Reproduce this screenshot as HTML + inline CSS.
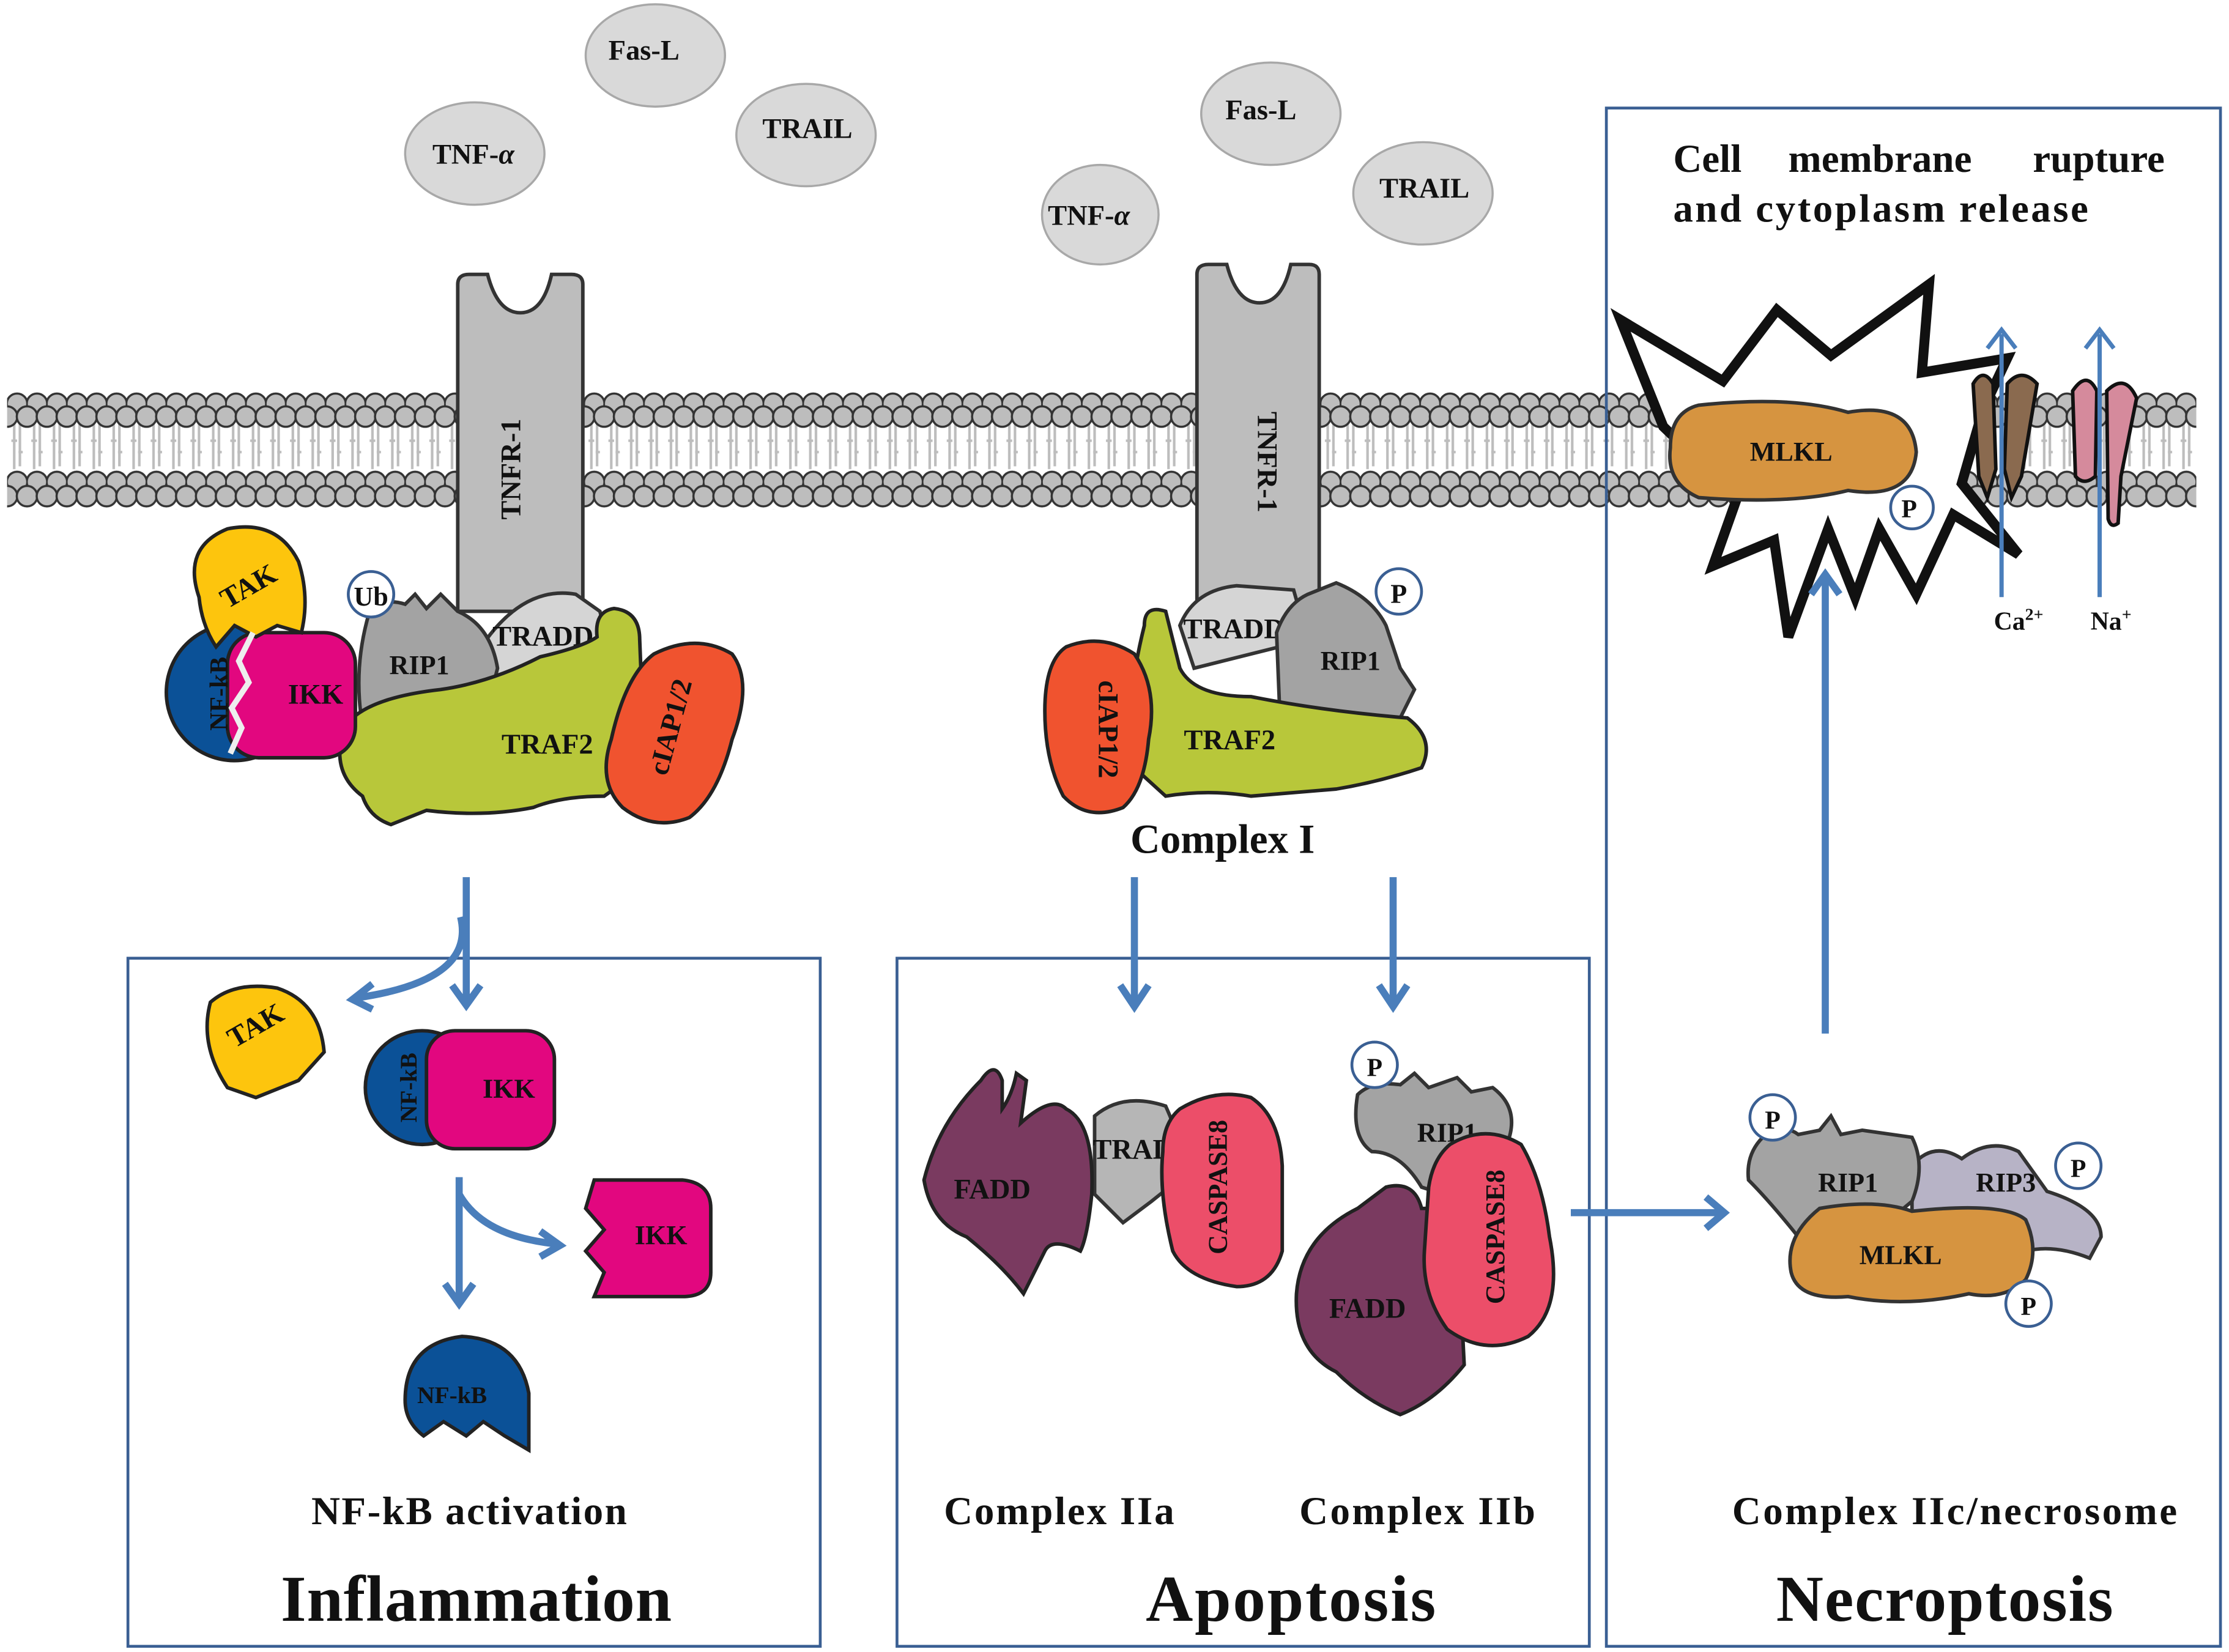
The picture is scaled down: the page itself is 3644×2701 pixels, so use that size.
<!DOCTYPE html>
<html><head><meta charset="utf-8"><style>
html,body{margin:0;padding:0;background:#fff}
svg{display:block}
text{font-family:"Liberation Serif",serif;font-weight:bold;fill:#111}
</style></head><body>
<svg width="3644" height="2701" viewBox="0 0 1568 1162" preserveAspectRatio="none" xmlns="http://www.w3.org/2000/svg">
<defs>
<pattern id="mem" x="5" y="276" width="14" height="82" patternUnits="userSpaceOnUse">
<g stroke="#bdbdbd" stroke-width="1.8" fill="none">
<path d="M5 22 V54 M9 22 V52 M3 34 h4 M8 42 h3"/>
</g>
<g fill="#bdbdbd" stroke="#333" stroke-width="1.5">
<circle cx="7" cy="8" r="7.2"/>
<circle cx="0" cy="17" r="7.2"/><circle cx="14" cy="17" r="7.2"/>
<circle cx="7" cy="63" r="7.2"/>
<circle cx="0" cy="73" r="7.2"/><circle cx="14" cy="73" r="7.2"/>
</g>
</pattern>
</defs>

<!-- ligands -->
<g fill="#d9d9d9" stroke="#a8a8a8" stroke-width="1.5">
<ellipse cx="461" cy="39" rx="49" ry="36"/>
<ellipse cx="567" cy="95" rx="49" ry="36"/>
<ellipse cx="334" cy="108" rx="49" ry="36"/>
<ellipse cx="894" cy="80" rx="49" ry="36"/>
<ellipse cx="1001" cy="136" rx="49" ry="36"/>
<ellipse cx="774" cy="151" rx="41" ry="35"/>
</g>
<g font-size="20" text-anchor="middle">
<text x="453" y="42">Fas-L</text>
<text x="568" y="97">TRAIL</text>
<text x="333" y="115">TNF-<tspan font-style="italic">α</tspan></text>
<text x="887" y="84">Fas-L</text>
<text x="1002" y="139">TRAIL</text>
<text x="766" y="158">TNF-<tspan font-style="italic">α</tspan></text>
</g>

<!-- membrane -->
<rect x="5" y="276" width="1540" height="82" fill="url(#mem)"/>

<!-- star rupture -->
<polygon points="1140,225 1212,268 1250,218 1288,250 1357,200 1352,262 1412,252 1395,288 1380,340 1420,390 1374,362 1348,418 1322,372 1305,420 1286,372 1258,448 1248,380 1205,398 1222,350 1170,300" fill="#fff" stroke="#111" stroke-width="7" stroke-linejoin="miter"/>

<!-- boxes -->
<g fill="none" stroke="#3a5f93" stroke-width="2">
<rect x="90" y="674" width="487" height="484"/>
<rect x="631" y="674" width="487" height="484"/>
<rect x="1130" y="76" width="432" height="1082"/>
</g>

<!-- receptors -->
<g fill="#bdbdbd" stroke="#333" stroke-width="2.5">
<path d="M322 200 Q322 193 330 193 L343 193 Q350 220 366 220 Q382 220 388 193 L402 193 Q410 193 410 200 L410 430 L322 430 Z"/>
<path d="M842 193 Q842 186 850 186 L863 186 Q870 213 886 213 Q902 213 908 186 L921 186 Q928 186 928 193 L928 430 L842 430 Z"/>
</g>
<text transform="translate(366 330) rotate(-90)" font-size="20" text-anchor="middle">TNFR-1</text>
<text transform="translate(885 325) rotate(90)" font-size="20" text-anchor="middle">TNFR-1</text>

<!-- Left complex -->
<path d="M342 450 Q370 412 405 418 L422 430 L430 460 L350 480 Z" fill="#d5d5d5" stroke="#333" stroke-width="2.5"/>
<text x="382" y="454" font-size="20" text-anchor="middle">TRADD</text>
<path d="M260 430 Q270 420 285 425 L292 418 L300 428 L310 418 L322 430 Q345 440 350 470 L345 490 L300 510 L255 510 Q248 470 260 430 Z" fill="#a3a3a3" stroke="#333" stroke-width="2.5"/>
<text x="295" y="474" font-size="19" text-anchor="middle">RIP1</text>
<circle cx="261" cy="418" r="16" fill="#fff" stroke="#3a5f93" stroke-width="2"/>
<text x="261" y="426" font-size="19" text-anchor="middle">Ub</text>
<path d="M248 505 Q265 490 310 485 Q345 480 380 462 Q410 455 420 448 Q418 430 432 428 Q450 430 450 450 L452 500 Q455 540 425 560 Q395 560 375 568 Q340 575 300 570 L275 580 Q260 575 255 560 Q235 545 240 520 Z" fill="#b8c73a" stroke="#222" stroke-width="2.5"/>
<text x="385" y="530" font-size="20" text-anchor="middle">TRAF2</text>
<path d="M460 460 Q490 445 515 460 Q530 480 515 520 Q505 560 485 575 Q460 585 438 568 Q420 550 430 520 Q440 475 460 460 Z" fill="#f0532f" stroke="#222" stroke-width="2.5"/>
<text transform="translate(478 513) rotate(-75)" font-size="20" text-anchor="middle">cIAP1/2</text>
<!-- NF-kB/IKK/TAK top -->
<circle cx="165" cy="487" r="48" fill="#0b5197" stroke="#222" stroke-width="2.5"/>
<rect x="160" y="445" width="90" height="88" rx="22" fill="#e2077f" stroke="#222" stroke-width="2.5"/>
<path d="M140 420 Q128 385 160 372 Q195 365 210 395 Q218 420 212 445 L195 440 L180 448 L165 440 L152 455 Q142 440 140 420 Z" fill="#fdc50d" stroke="#222" stroke-width="2.5"/>
<path d="M178 445 L168 465 L175 480 L163 498 L170 512 L162 530" fill="none" stroke="#eee" stroke-width="4"/>
<text transform="translate(178 418) rotate(-30)" font-size="20" text-anchor="middle">TAK</text>
<text x="222" y="495" font-size="20" text-anchor="middle">IKK</text>
<text transform="translate(160 488) rotate(-90)" font-size="18" text-anchor="middle">NF-kB</text>

<!-- Middle complex I -->
<path d="M830 440 Q840 415 870 412 L910 415 L920 450 L840 470 Z" fill="#d5d5d5" stroke="#333" stroke-width="2.5"/>
<text x="868" y="449" font-size="20" text-anchor="middle">TRADD</text>
<path d="M898 445 Q905 425 920 418 L940 410 Q965 420 975 440 L985 470 L995 485 L985 505 L930 510 L900 495 Z" fill="#a3a3a3" stroke="#333" stroke-width="2.5"/>
<text x="950" y="471" font-size="19" text-anchor="middle">RIP1</text>
<circle cx="984" cy="416" r="16" fill="#fff" stroke="#3a5f93" stroke-width="2"/>
<text x="984" y="424" font-size="19" text-anchor="middle">P</text>
<path d="M805 440 Q805 425 820 430 L830 470 Q840 490 880 490 Q930 500 990 505 Q1010 520 1000 540 Q970 550 940 555 L880 560 Q850 555 820 560 L798 540 Q790 500 805 440 Z" fill="#b8c73a" stroke="#222" stroke-width="2.5"/>
<text x="865" y="527" font-size="20" text-anchor="middle">TRAF2</text>
<path d="M750 455 Q775 445 798 460 Q815 485 808 520 Q805 555 790 568 Q765 578 748 560 Q735 535 735 500 Q735 465 750 455 Z" fill="#f0532f" stroke="#222" stroke-width="2.5"/>
<text transform="translate(773 513) rotate(90)" font-size="20" text-anchor="middle">cIAP1/2</text>
<text x="860" y="600" font-size="29" text-anchor="middle">Complex I</text>

<!-- MLKL in membrane -->
<path d="M1195 285 Q1260 278 1300 290 Q1345 282 1348 318 Q1345 352 1300 345 Q1260 355 1195 350 Q1172 340 1175 315 Q1175 290 1195 285 Z" fill="#d69440" stroke="#333" stroke-width="2.5"/>
<text x="1260" y="324" font-size="19" text-anchor="middle">MLKL</text>
<circle cx="1345" cy="357" r="15" fill="none" stroke="#3a5f93" stroke-width="2"/>
<text x="1343" y="364" font-size="18" text-anchor="middle">P</text>
<!-- channels -->
<path d="M1388 270 Q1395 258 1402 270 L1404 330 L1398 350 L1392 335 Z" fill="#8a6a4f" stroke="#111" stroke-width="2.5"/>
<path d="M1412 270 Q1422 258 1433 270 L1422 335 L1415 350 L1410 330 Z" fill="#8a6a4f" stroke="#111" stroke-width="2.5"/>
<path d="M1458 275 Q1468 260 1475 275 L1474 335 Q1466 342 1460 335 Z" fill="#d58a9c" stroke="#111" stroke-width="2.5"/>
<path d="M1482 275 Q1495 262 1503 280 L1492 335 L1490 368 Q1485 372 1483 365 Z" fill="#d58a9c" stroke="#111" stroke-width="2.5"/>
<g stroke="#4a7ebb" stroke-width="3" fill="none">
<path d="M1408 420 V235 M1398 245 L1408 232 L1418 245"/>
<path d="M1477 420 V235 M1467 245 L1477 232 L1487 245"/>
</g>
<text x="1420" y="443" font-size="18" text-anchor="middle">Ca<tspan font-size="12" dy="-7">2+</tspan></text>
<text x="1485" y="443" font-size="18" text-anchor="middle">Na<tspan font-size="12" dy="-7">+</tspan></text>
<text x="1177" y="121" font-size="28">Cell</text>
<text x="1258" y="121" font-size="28">membrane</text>
<text x="1430" y="121" font-size="28">rupture</text>
<text x="1177" y="156" font-size="28" textLength="292">and cytoplasm release</text>

<!-- blue arrows -->
<g stroke="#4a7ebb" stroke-width="5" fill="none" stroke-linecap="butt">
<path d="M328 617 V705"/><path d="M318 693 L328 707 L338 693"/>
<path d="M324 645 Q335 690 250 702"/><path d="M262 692 L248 703 L262 710"/>
<path d="M798 617 V705"/><path d="M788 693 L798 708 L808 693"/>
<path d="M980 617 V705"/><path d="M970 693 L980 708 L990 693"/>
<path d="M1284 727 V405"/><path d="M1274 418 L1284 404 L1294 418"/>
<path d="M1105 853 H1210"/><path d="M1200 842 L1213 853 L1200 864"/>
<path d="M323 828 V915"/><path d="M313 903 L323 917 L333 903"/>
<path d="M323 840 Q340 870 392 875"/><path d="M380 866 L394 876 L380 884"/>
</g>

<!-- inflammation contents -->
<path d="M148 705 Q165 690 195 695 Q225 705 228 740 L210 760 L180 772 L160 765 Q140 735 148 705 Z" fill="#fdc50d" stroke="#222" stroke-width="2.5"/>
<text transform="translate(183 727) rotate(-30)" font-size="20" text-anchor="middle">TAK</text>
<circle cx="297" cy="765" r="40" fill="#0b5197" stroke="#222" stroke-width="2.5"/>
<rect x="300" y="725" width="90" height="83" rx="20" fill="#e2077f" stroke="#222" stroke-width="2.5"/>
<text x="358" y="772" font-size="19" text-anchor="middle">IKK</text>
<text transform="translate(293 765) rotate(-90)" font-size="17" text-anchor="middle">NF-kB</text>
<path d="M418 830 L480 830 Q500 832 500 850 L500 895 Q500 912 480 912 L418 912 L425 895 L412 880 L425 865 L412 850 Z" fill="#e2077f" stroke="#222" stroke-width="2.5"/>
<text x="465" y="875" font-size="19" text-anchor="middle">IKK</text>
<path d="M285 985 Q285 945 325 940 Q365 942 372 980 L372 1020 L355 1010 L340 1000 L328 1010 L312 1000 L298 1010 Q285 1000 285 985 Z" fill="#0b5197" stroke="#222" stroke-width="2.5"/>
<text x="318" y="987" font-size="17" text-anchor="middle">NF-kB</text>
<text x="330" y="1072" font-size="28" text-anchor="middle" textLength="222">NF-kB activation</text>
<text x="335" y="1140" font-size="46" text-anchor="middle" textLength="275">Inflammation</text>

<!-- apoptosis contents -->
<path d="M770 785 Q790 768 820 778 Q830 800 835 825 L810 845 L790 860 L770 840 Z" fill="#b6b6b6" stroke="#333" stroke-width="2.5"/>
<text x="797" y="815" font-size="20" text-anchor="middle">TRAD</text>
<path d="M690 760 Q700 745 705 760 L705 780 Q712 770 715 755 L722 760 L718 790 Q740 770 750 780 Q770 790 768 840 Q765 870 760 880 Q740 870 735 880 L720 910 Q705 890 680 870 Q655 860 650 830 Q660 790 690 760 Z" fill="#7a3a60" stroke="#222" stroke-width="2.5"/>
<text x="698" y="843" font-size="20" text-anchor="middle">FADD</text>
<path d="M830 780 Q855 765 880 772 Q900 785 902 820 L902 880 Q895 905 870 905 Q835 900 825 880 Q815 840 818 810 Q818 790 830 780 Z" fill="#ec4e69" stroke="#222" stroke-width="2.5"/>
<text transform="translate(863 835) rotate(-90)" font-size="19" text-anchor="middle">CASPASE8</text>
<path d="M955 770 Q965 760 985 763 L995 755 L1005 765 L1025 758 L1035 768 L1050 765 Q1070 780 1060 805 L1035 835 L1015 840 L1000 835 Q985 810 965 810 Q950 800 955 770 Z" fill="#a3a3a3" stroke="#333" stroke-width="2.5"/>
<text x="1018" y="803" font-size="19" text-anchor="middle">RIP1</text>
<circle cx="967" cy="749" r="16" fill="#fff" stroke="#3a5f93" stroke-width="2"/>
<text x="967" y="757" font-size="18" text-anchor="middle">P</text>
<path d="M975 835 Q995 830 1000 850 L1010 850 L1025 860 L1030 960 Q1010 985 985 995 Q960 985 940 965 Q910 950 912 910 Q915 870 955 850 Z" fill="#7a3a60" stroke="#222" stroke-width="2.5"/>
<text x="962" y="927" font-size="20" text-anchor="middle">FADD</text>
<path d="M1020 805 Q1045 790 1070 805 Q1085 830 1090 870 Q1100 920 1075 940 Q1045 955 1018 935 Q1000 910 1002 880 L1005 835 Q1008 815 1020 805 Z" fill="#ec4e69" stroke="#222" stroke-width="2.5"/>
<text transform="translate(1058 870) rotate(-90)" font-size="19" text-anchor="middle">CASPASE8</text>
<text x="745" y="1072" font-size="28" text-anchor="middle" textLength="162">Complex IIa</text>
<text x="997" y="1072" font-size="28" text-anchor="middle" textLength="166">Complex IIb</text>
<text x="908" y="1140" font-size="46" text-anchor="middle" textLength="204">Apoptosis</text>

<!-- necroptosis contents -->
<path d="M1345 820 Q1360 802 1380 815 Q1400 800 1420 810 L1440 838 Q1478 850 1478 870 L1470 885 Q1445 875 1425 880 L1390 880 L1345 875 Z" fill="#b7b3c6" stroke="#333" stroke-width="2.5"/>
<text x="1411" y="838" font-size="19" text-anchor="middle">RIP3</text>
<path d="M1240 800 Q1255 790 1265 798 L1280 795 L1288 785 L1295 798 L1310 795 L1345 800 Q1355 820 1345 845 L1315 870 L1265 870 Q1245 845 1230 830 Q1228 812 1240 800 Z" fill="#a3a3a3" stroke="#333" stroke-width="2.5"/>
<text x="1300" y="838" font-size="19" text-anchor="middle">RIP1</text>
<path d="M1280 850 Q1320 843 1345 852 Q1410 845 1425 858 Q1435 880 1425 900 Q1410 915 1385 910 Q1340 920 1300 912 Q1265 915 1260 895 Q1255 870 1280 850 Z" fill="#d69440" stroke="#333" stroke-width="2.5"/>
<text x="1337" y="889" font-size="19" text-anchor="middle">MLKL</text>
<g fill="#fff" stroke="#3a5f93" stroke-width="2">
<circle cx="1247" cy="786" r="16"/><circle cx="1462" cy="820" r="16"/><circle cx="1427" cy="917" r="16"/>
</g>
<g font-size="18" text-anchor="middle">
<text x="1247" y="794">P</text><text x="1462" y="828">P</text><text x="1427" y="925">P</text>
</g>
<text x="1375" y="1072" font-size="28" text-anchor="middle" textLength="313">Complex IIc/necrosome</text>
<text x="1368" y="1140" font-size="46" text-anchor="middle" textLength="237">Necroptosis</text>
</svg>
</body></html>
